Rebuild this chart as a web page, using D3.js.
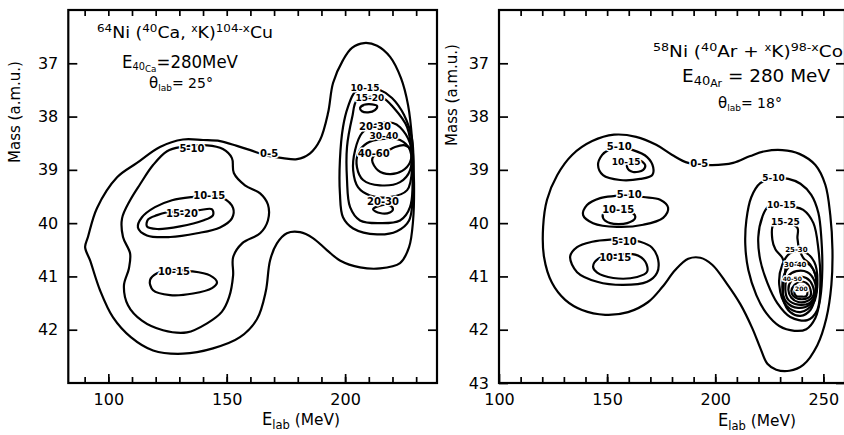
<!DOCTYPE html>
<html>
<head>
<meta charset="utf-8">
<script src="https://cdn.jsdelivr.net/npm/d3@7/dist/d3.min.js"></script>
<style>
body { margin: 0; background: #fff; }
svg { display: block; }
text { font-family: "DejaVu Sans", "Liberation Sans", sans-serif; fill: #000; }
.frame { fill: none; stroke: #000; stroke-width: 2.2; }
.contour { fill: none; stroke: #000; stroke-width: 2.2; stroke-linejoin: round; }
.tick line { stroke: #000; stroke-width: 1.7; }
.tick text { font-family: "DejaVu Sans", sans-serif; font-size: 16px; fill: #000; }
.clab { font-weight: bold; text-anchor: middle; dominant-baseline: central;
        paint-order: stroke; stroke: #fff; stroke-width: 3px; stroke-linejoin: round; }
</style>
</head>
<body>
<svg id="chart" width="844" height="435"></svg>
<script>
// ---- left panel : 64Ni(40Ca,xK) , contours as [E_lab (MeV), mass (amu)]
const leftC0_5 = [[90.2,40.45],[91.4,40.26],[95.2,39.72],[103.7,39.14],[112.1,38.87],[121.8,38.57],[131.5,38.43],[140.0,38.44],[147.2,38.46],[154.3,38.55],[160.0,38.63],[166.0,38.72],[173.7,38.78],[179.7,38.80],[185.2,38.69],[189.4,38.44],[192.8,37.93],[194.9,37.37],[199.1,36.94],[202.9,36.71],[208.0,36.62],[213.5,36.67],[219.0,36.88],[223.6,37.28],[226.6,37.79],[228.3,38.44],[229.1,39.25],[228.7,39.95],[227.0,40.45],[223.2,40.75],[214.7,40.85],[206.3,40.83],[197.8,40.70],[192.4,40.51],[186.4,40.28],[181.0,40.17],[175.4,40.19],[171.2,40.38],[168.3,40.70],[166.5,41.28],[162.8,41.80],[155.6,42.14],[144.2,42.35],[131.5,42.45],[118.9,42.39],[109.5,42.14],[102.0,41.77],[96.5,41.26],[92.3,40.70]];
const leftC5_10 = [[131.1,38.57],[141.7,38.54],[148.4,38.61],[152.2,38.78],[153.0,39.06],[157.7,39.29],[164.1,39.44],[167.4,39.65],[167.4,39.95],[164.1,40.19],[156.5,40.38],[152.7,40.64],[152.7,40.98],[151.0,41.39],[148.0,41.66],[141.7,41.88],[133.2,42.05],[123.1,42.01],[114.2,41.83],[108.3,41.54],[106.6,41.17],[108.7,40.85],[109.2,40.57],[106.2,40.26],[105.8,39.91],[109.2,39.57],[113.4,39.27],[118.9,38.91],[124.8,38.65]];
const leftC10_15a = [[142.9,39.49],[148.4,39.53],[152.7,39.72],[152.2,39.91],[147.2,40.08],[137.5,40.19],[126.1,40.26],[116.3,40.23],[112.5,40.08],[114.2,39.89],[119.7,39.70],[126.9,39.57],[135.3,39.51]];
const leftC15_20 = [[131.1,39.78],[137.9,39.76],[143.8,39.74],[144.2,39.85],[140.0,39.95],[130.3,40.06],[120.6,40.11],[116.3,40.06],[116.8,39.93],[120.6,39.85],[124.4,39.80]];
const leftC10_15b = [[126.9,40.88],[134.5,40.90],[142.9,40.98],[145.9,41.11],[143.8,41.22],[135.8,41.32],[126.1,41.35],[118.9,41.26],[117.6,41.07],[120.6,40.94]];
const leftR10_15 = [[204.2,37.54],[201.2,37.82],[199.1,38.20],[197.8,38.82],[197.8,39.44],[199.1,39.89],[203.4,40.10],[213.5,40.21],[221.9,40.15],[227.0,39.95],[228.7,39.19],[228.3,38.44],[224.9,37.97],[219.8,37.65],[214.7,37.50],[209.5,37.47]];
const leftR15_20 = [[205.0,37.69],[203.0,38.01],[200.8,38.57],[200.8,39.19],[202.1,39.70],[206.3,39.95],[214.7,40.00],[223.2,39.95],[227.4,39.70],[228.3,38.82],[226.2,38.20],[220.2,37.82],[216.0,37.65],[210.5,37.63]];
const leftR20_30 = [[213.5,38.14],[207.1,38.31],[204.2,38.63],[203.4,39.01],[205.5,39.33],[210.5,39.48],[218.9,39.51],[226.2,39.38],[228.3,38.95],[227.4,38.50],[223.2,38.20],[220.2,38.12]];
const leftR30_40 = [[209.2,38.50],[205.5,38.69],[205.0,38.95],[207.6,39.19],[214.7,39.29],[223.2,39.23],[227.4,39.01],[227.4,38.63],[223.2,38.44],[216.0,38.42]];
const leftR40_60 = [[211.4,38.82],[213.9,39.01],[218.9,39.08],[224.1,39.02],[227.4,38.86],[227.8,38.63],[225.3,38.54],[221.1,38.57],[216.8,38.67],[212.6,38.72]];
const leftR15_20s = [[206.3,37.84],[208.0,37.78],[211.4,37.77],[213.5,37.80],[212.6,37.88],[209.7,37.92],[207.1,37.90]];
const leftR20_30s = [[211.8,39.74],[214.7,39.67],[218.9,39.67],[220.2,39.74],[218.9,39.80],[214.7,39.81]];

const leftLabels = [
  ["0-5", 167.9, 38.70, 10], ["5-10", 135.3, 38.59, 10], ["10-15", 142.6, 39.49, 10],
  ["15-20", 131.1, 39.81, 10], ["10-15", 127.7, 40.90, 10], ["10-15", 208.4, 37.46, 9],
  ["15-20", 210.5, 37.65, 9], ["20-30", 212.6, 38.18, 10], ["30-40", 216.4, 38.37, 9],
  ["40-60", 212.1, 38.69, 10], ["20-30", 216.0, 39.59, 10]
];

// ---- right panel : 58Ni(40Ar,xK)
const rightC0_5 = [[198.6,38.91],[208.3,38.87],[216.2,38.74],[223.1,38.65],[231.0,38.63],[238.9,38.70],[246.3,38.91],[250.9,39.28],[253.2,39.85],[254.2,40.50],[253.7,41.16],[251.4,41.78],[247.2,42.29],[240.7,42.66],[234.3,42.77],[228.2,42.75],[224.1,42.64],[220.8,42.34],[217.1,41.97],[211.6,41.52],[205.1,41.12],[198.6,40.78],[193.1,40.65],[187.5,40.67],[181.5,40.88],[175.5,41.20],[169.0,41.48],[159.7,41.67],[149.1,41.72],[138.4,41.63],[130.6,41.44],[124.5,41.12],[120.8,40.63],[120.4,40.07],[122.2,39.56],[126.9,39.10],[133.8,38.72],[143.1,38.46],[153.2,38.34],[163.4,38.38],[172.7,38.53],[180.1,38.72],[187.5,38.87]];
const rightT5_10 = [[155.5,38.58],[162.0,38.63],[168.5,38.76],[171.3,38.95],[170.8,39.10],[165.3,39.17],[156.0,39.19],[148.1,39.10],[145.8,38.91],[147.7,38.72],[150.5,38.63]];
const rightT10_15 = [[159.8,38.86],[164.4,38.81],[167.6,38.91],[166.7,39.00],[162.0,39.04],[159.3,38.96]];
const rightM5_10 = [[160.0,39.47],[166.7,39.51],[174.5,39.56],[178.2,39.71],[175.9,39.90],[166.7,40.03],[154.6,40.07],[143.5,40.00],[138.9,39.85],[140.7,39.66],[146.8,39.53],[153.7,39.49]];
const rightM10_15 = [[155.0,39.76],[161.5,39.80],[163.0,39.90],[159.3,40.00],[151.4,40.00],[148.1,39.90],[148.6,39.80]];
const rightB5_10 = [[158.0,40.31],[165.3,40.35],[170.8,40.46],[173.6,40.69],[173.1,40.93],[168.5,41.10],[157.4,41.16],[145.4,41.10],[136.1,40.92],[132.9,40.63],[136.1,40.45],[143.1,40.35],[151.4,40.31]];
const rightB10_15 = [[153.0,40.60],[163.0,40.59],[167.6,40.72],[168.5,40.91],[163.9,41.01],[152.8,41.03],[145.4,40.93],[143.5,40.82],[145.8,40.67]];
const rightR5_10 = [[220.8,39.25],[216.7,39.51],[214.4,39.94],[213.9,40.41],[215.3,40.88],[219.0,41.35],[223.6,41.69],[229.6,41.93],[236.6,42.02],[242.1,41.99],[246.3,41.78],[248.6,41.40],[249.5,40.88],[249.1,40.31],[247.7,39.81],[244.4,39.47],[239.4,39.26],[233.8,39.17],[227.0,39.16]];
const rightR10_15 = [[224.5,39.69],[221.8,39.88],[219.9,40.26],[220.8,40.69],[224.1,41.12],[228.7,41.50],[234.7,41.76],[242.6,41.82],[247.2,41.63],[248.6,41.12],[247.7,40.49],[245.4,40.00],[240.7,39.75],[236.1,39.69],[230.5,39.66]];
const rightR15_25 = [[232.4,39.98],[226.9,40.03],[226.4,40.31],[227.8,40.49],[231.0,40.65],[232.4,40.84],[231.5,41.16],[231.5,41.44],[234.7,41.67],[239.4,41.74],[244.0,41.63],[246.3,41.35],[246.3,40.97],[244.0,40.78],[240.7,40.65],[238.9,40.49],[238.0,40.28],[238.0,40.09]];
const rightR25_30 = [[229.6,41.16],[231.0,40.78],[234.7,40.56],[240.7,40.53],[245.8,40.73],[247.2,41.16],[245.4,41.50],[239.4,41.67],[232.9,41.55]];
const rightR30_40 = [[231.0,41.20],[232.9,40.88],[237.0,40.75],[243.1,40.77],[246.3,40.97],[246.8,41.29],[244.0,41.52],[238.4,41.59],[232.9,41.48]];
const rightR40_50 = [[232.4,41.24],[233.8,40.99],[237.5,40.90],[242.6,40.92],[245.8,41.08],[246.3,41.33],[243.5,41.50],[238.4,41.53],[233.8,41.44]];
const rightR50a = [[233.8,41.25],[235.2,41.08],[238.0,41.01],[242.1,41.03],[244.9,41.16],[245.4,41.35],[242.6,41.46],[238.4,41.48],[235.2,41.40]];
const rightR50b = [[235.2,41.27],[236.6,41.16],[238.9,41.10],[242.1,41.12],[244.0,41.24],[244.0,41.37],[241.7,41.42],[238.4,41.42],[236.1,41.37]];
const rightR200 = [[236.6,41.29],[238.0,41.22],[239.8,41.18],[241.7,41.22],[242.6,41.29],[242.1,41.37],[239.8,41.38],[237.5,41.37]];

const rightLabels = [
  ["0-5", 192.6, 38.89, 10], ["5-10", 155.6, 38.57, 10], ["10-15", 158.8, 38.85, 9],
  ["5-10", 160.2, 39.47, 10], ["10-15", 155.1, 39.75, 10], ["5-10", 157.9, 40.35, 10],
  ["10-15", 153.7, 40.65, 10], ["5-10", 226.9, 39.15, 9], ["10-15", 230.6, 39.66, 9],
  ["15-25", 232.4, 39.98, 9], ["25-30", 237.5, 40.50, 7], ["30-40", 237.0, 40.78, 7],
  ["40-50", 235.6, 41.03, 6], ["200", 239.8, 41.22, 6]
];

// axes
const massDomain = [36, 43];
const leftEDomain = [83.1, 238.8];
const rightEDomain = [100, 260];
const leftXMinor = d3.range(90, 231, 10);
const leftXMajor = [100, 150, 200];
const rightXMinor = d3.range(110, 251, 10);
const rightXMajor = [100, 150, 200, 250];
const leftYTicks = [37, 38, 39, 40, 41, 42];
const rightYTicks = [37, 38, 39, 40, 41, 42, 43];

// annotation texts: [text, font size, vertical offset]
const leftTitle = [["64",11,-6],["Ni (",16,0],["40",11,-6],["Ca, ",16,0],["x",10,-6],["K)",16,0],["104-x",11,-6],["Cu",16,0]];
const leftEnergy = [["E",17,0],["40",10,2],["Ca",9,4],["=280MeV",17,0]];
const leftAngle = [["\u03b8",15,0],["lab",9,3],["= 25\u00b0",14,0]];
const rightTitle = [["58",11,-6],["Ni (",16,0],["40",11,-6],["Ar + ",16,0],["x",10,-6],["K)",16,0],["98-x",11,-6],["Co",16,0]];
const rightEnergy = [["E",17,0],["40",12,3],["Ar",10,5],[" = 280 MeV",17,0]];
const rightAngle = [["\u03b8",15,0],["lab",9,3],["= 18\u00b0",14,0]];
const xTitle = [["E",17,0],["lab",12,4],[" (MeV)",16,0]];

const svg = d3.select('#chart');

function rich(g, x, y, parts, len) {
  const t = g.append('text').attr('x', x).attr('y', y);
  let cur = 0;
  parts.forEach(p => {
    t.append('tspan').text(p[0]).style('font-size', p[1] + 'px').attr('dy', p[2] - cur);
    cur = p[2];
  });
  if (len) t.attr('textLength', len).attr('lengthAdjust', 'spacingAndGlyphs');
  return t;
}

function panel(o) {
  const g = svg.append('g');
  const x = d3.scaleLinear().domain(o.eDomain).range(o.xRange);
  const y = d3.scaleLinear().domain(massDomain).range([10, 383]);
  const [x0, x1] = o.xRange;

  const clean = s => s.select('.domain').remove();
  g.append('g').attr('transform', 'translate(0,383)')
    .call(d3.axisBottom(x).tickValues(o.xMinor).tickSize(-6).tickFormat('')).call(clean);
  g.append('g').attr('transform', 'translate(0,383)')
    .call(d3.axisBottom(x).tickValues(o.xMajor).tickSize(-9).tickPadding(11).tickFormat(d3.format('d'))).call(clean);
  g.append('g').attr('transform', 'translate(0,10)')
    .call(d3.axisTop(x).tickValues(o.xMinor).tickSize(-6).tickFormat('')).call(clean);
  g.append('g').attr('transform', `translate(${x0},0)`)
    .call(d3.axisLeft(y).tickValues(o.yTicks).tickSize(-9).tickPadding(10).tickFormat(d3.format('d'))).call(clean);
  g.append('g').attr('transform', `translate(${x1},0)`)
    .call(d3.axisRight(y).tickValues(o.yTicks).tickSize(-9).tickFormat('')).call(clean);

  g.append('rect').attr('class', 'frame')
    .attr('x', x0).attr('y', 10).attr('width', x1 - x0).attr('height', 373);

  const line = d3.line().x(d => x(d[0])).y(d => y(d[1])).curve(d3.curveCatmullRomClosed.alpha(0.5));
  g.selectAll('path.contour').data(o.contours).join('path')
    .attr('class', 'contour').attr('d', line);

  g.selectAll('text.clab').data(o.labels).join('text')
    .attr('class', 'clab')
    .attr('x', d => x(d[1])).attr('y', d => y(d[2]))
    .style('font-size', d => d[3] + 'px')
    .text(d => d[0]);

  g.append('text')
    .attr('transform', `translate(${o.yTitle[0]},${o.yTitle[1]}) rotate(-90)`)
    .attr('text-anchor', 'middle').style('font-size', '15px')
    .text('Mass (a.m.u.)');
  rich(g, o.xTitle[0], o.xTitle[1], xTitle, 78);
  o.notes.forEach(n => rich(g, n[0], n[1], n[2], n[3]));
}

panel({
  eDomain: leftEDomain, xRange: [68.3, 437],
  xMinor: leftXMinor, xMajor: leftXMajor, yTicks: leftYTicks,
  contours: [leftC0_5, leftC5_10, leftC10_15a, leftC15_20, leftC10_15b, leftR10_15, leftR15_20,
             leftR20_30, leftR30_40, leftR40_60, leftR15_20s, leftR20_30s],
  labels: leftLabels,
  yTitle: [20, 112], xTitle: [262, 425],
  notes: [[97, 38, leftTitle, 176], [122, 68, leftEnergy, 116], [149, 88, leftAngle, 0]]
});

panel({
  eDomain: rightEDomain, xRange: [499, 845],
  xMinor: rightXMinor, xMajor: rightXMajor, yTicks: rightYTicks,
  contours: [rightC0_5, rightT5_10, rightT10_15, rightM5_10, rightM10_15, rightB5_10, rightB10_15,
             rightR5_10, rightR10_15, rightR15_25, rightR25_30, rightR30_40, rightR40_50,
             rightR50a, rightR50b, rightR200],
  labels: rightLabels,
  yTitle: [457, 95], xTitle: [718, 426],
  notes: [[653, 57, rightTitle, 190], [682, 82, rightEnergy, 148], [718, 108, rightAngle, 0]]
});
</script>
</body>
</html>
